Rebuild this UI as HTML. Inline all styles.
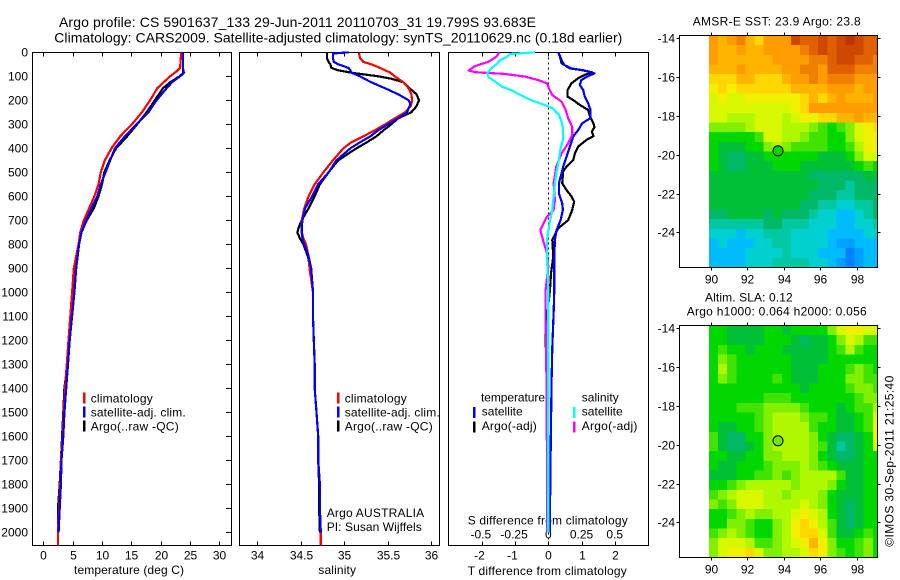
<!DOCTYPE html>
<html>
<head>
<meta charset="utf-8">
<title>Argo profile</title>
<style>
html,body{margin:0;padding:0;background:#fff;width:900px;height:580px;overflow:hidden}
svg{display:block}
text{font-family:"Liberation Sans",sans-serif;font-size:12px;fill:#000}
</style>
</head>
<body>
<svg id="fig" width="900" height="580" viewBox="0 0 900 580" xmlns="http://www.w3.org/2000/svg">
<rect width="900" height="580" fill="#fff"/>
<text x="59" y="27" style="font-size:14px" textLength="477" lengthAdjust="spacing">Argo profile: CS 5901637_133 29-Jun-2011 20110703_31 19.799S 93.683E</text>
<text x="54.3" y="42.7" style="font-size:14px" textLength="568" lengthAdjust="spacing">Climatology: CARS2009. Satellite-adjusted climatology: synTS_20110629.nc (0.18d earlier)</text>
<text x="74" y="574" textLength="110">temperature (deg C)</text>
<text x="318.3" y="574" textLength="37.7">salinity</text>
<text x="467.7" y="575" textLength="159">T difference from climatology</text>
<text x="467.7" y="524.3" textLength="160">S difference from climatology</text>
<text x="90.7" y="402.3" textLength="62">climatology</text>
<text x="90.7" y="416.7" textLength="95">satellite-adj. clim.</text>
<text x="90.7" y="430.7" textLength="88">Argo(..raw -QC)</text>
<text x="344.7" y="402.3" textLength="62">climatology</text>
<text x="344.7" y="416.7" textLength="95">satellite-adj. clim.</text>
<text x="344.7" y="430.7" textLength="88">Argo(..raw -QC)</text>
<text x="326.7" y="517" textLength="97.5">Argo AUSTRALIA</text>
<text x="326.7" y="531" textLength="95">PI: Susan Wijffels</text>
<text x="481" y="401.7" textLength="64">temperature</text>
<text x="481.7" y="415.7" textLength="41">satellite</text>
<text x="481.7" y="430" textLength="55">Argo(-adj)</text>
<text x="581.7" y="401.7" textLength="37">salinity</text>
<text x="581.7" y="415.7" textLength="41">satellite</text>
<text x="581.7" y="430" textLength="55.7">Argo(-adj)</text>
<text x="692.7" y="25.7" textLength="168">AMSR-E SST: 23.9 Argo: 23.8</text>
<text x="705" y="301.7" textLength="87.7">Altim. SLA: 0.12</text>
<text x="686.7" y="315.7" textLength="180">Argo h1000: 0.064 h2000: 0.056</text>
<text transform="translate(893.3,546.7) rotate(-90)" x="0" y="0" textLength="171">©IMOS 30-Sep-2011 21:25:40</text>
</svg>
<script>
// ---------- depth axis ----------
var depthTicks = [0,100,200,300,400,500,600,700,800,900,1000,1100,1200,1300,1400,1500,1600,1700,1800,1900,2000];

// ---------- temperature panel ----------
var tempTicks = [0,5,10,15,20,25,30];
var tempDepths = [0,65,80,85,100,125,150,200,250,300,350,400,450,500,550,600,650,700,750,800,900,1000,1100,1200,1300,1400,1500,1600,1700,1800,1900,2000,2055];
var tempClim = [23.5,23.3,22.7,22.4,21.6,20.5,19.4,18.2,16.8,15.1,13.1,11.6,10.5,9.8,9.4,8.7,7.8,6.9,6.3,6.0,5.2,4.9,4.6,4.3,4.0,3.7,3.5,3.3,3.0,2.9,2.7,2.5,2.5];
var tempSat = [23.8,23.8,23.9,24.0,23.3,21.9,21.0,19.3,17.9,15.9,13.9,12.2,11.4,10.6,9.8,9.2,8.2,7.3,6.5,6.1,5.6,5.3,4.9,4.5,4.2,3.9,3.6,3.4,3.1,3.0,2.8,2.6];
var tempArgo = [23.8,23.8,23.8,23.9,23.2,21.6,20.4,19.0,17.6,16.0,14.3,12.4,11.3,10.4,10.0,9.4,8.6,7.4,6.5,6.0,5.3,5.0,4.7,4.4,4.1,3.6,3.4,3.2,3.0,2.8,2.5,2.5];

// ---------- salinity panel ----------
var salTicks = [34,34.5,35,35.5,36];
var salDepths = [0,5,25,40,50,65,75,85,100,110,125,150,175,200,215,225,250,275,300,325,350,375,400,450,500,550,600,650,700,725,750,775,800,850,900,1000,1100,1200,1300,1400,1500,1600,1700,1800,1900,2000,2055];
var salClim = [35.17,35.17,35.18,35.22,35.31,35.41,35.47,35.53,35.58,35.62,35.68,35.74,35.77,35.78,35.77,35.76,35.7,35.58,35.47,35.35,35.22,35.08,34.99,34.87,34.76,34.66,34.59,34.54,34.51,34.51,34.51,34.53,34.56,34.59,34.6,34.64,34.64,34.65,34.66,34.66,34.68,34.7,34.7,34.72,34.72,34.73,34.73];
var salSat = [35.05,34.87,34.87,34.88,34.93,35.05,35.07,35.08,35.18,35.23,35.31,35.47,35.62,35.74,35.76,35.75,35.72,35.62,35.5,35.39,35.3,35.18,35.07,34.91,34.82,34.7,34.63,34.55,34.52,34.51,34.51,34.52,34.54,34.59,34.62,34.64,34.64,34.65,34.66,34.66,34.68,34.7,34.7,34.72,34.72,34.73];
var salArgo = [34.8,34.8,34.8,34.82,34.84,34.85,34.93,35.08,35.39,35.54,35.68,35.75,35.83,35.86,35.84,35.83,35.77,35.62,35.54,35.45,35.37,35.26,35.14,34.93,34.82,34.72,34.66,34.59,34.51,34.48,34.46,34.49,34.53,34.58,34.61,34.64,34.64,34.65,34.66,34.66,34.68,34.7,34.7,34.71,34.71,34.72];

// ---------- difference panel ----------
var diffTTicks = [-2,-1,0,1,2];
var diffSTicks = ["-0.5","-0.25","0","0.25","0.5"];
var diffSTickValues = [-0.5,-0.25,0,0.25,0.5];
var tSatDepths = [0,32,53,67,76,88,99,115,136,157,185,212,240,275,296,324,351,393,435,476,504,546,588,629,657,699,740,782,851,921,990,1088,1227,1366,1546,1782,1921,2000];
var tSatDiff = [0.30,0.40,0.48,0.70,1.10,1.39,1.20,1.00,0.95,1.05,1.10,1.20,1.27,1.26,1.02,0.90,0.75,0.65,0.55,0.45,0.40,0.32,0.32,0.42,0.44,0.37,0.25,0.20,0.18,0.18,0.18,0.16,0.12,0.10,0.08,0.06,0.05,0.05];
var tArgoDepths = [0,18,46,67,74,83,94,108,129,157,185,199,219,240,268,296,312,331,349,365,393,421,449,476,497,546,574,601,622,657,699,733,782,851,921,990,1143,1213,1282,1532,1657,1754,2000];
var tArgoDiff = [0.30,0.35,0.40,0.65,1.00,1.31,1.10,0.90,0.70,0.58,0.58,0.75,0.95,1.20,1.26,1.36,1.39,1.31,1.36,1.15,0.90,0.80,0.75,0.55,0.45,0.42,0.55,0.70,0.78,0.72,0.60,0.30,0.12,0.15,0.08,0.05,-0.07,-0.08,-0.05,-0.05,0.02,0.04,0.02];
var sSatDepths = [0,7,18,32,49,67,88,104,122,143,157,178,199,219,233,261,289,317,365,407,449,504,546,601,657,712,782,851,990,1500,2000];
var sSatDiff = [-0.10,-0.29,-0.31,-0.36,-0.39,-0.43,-0.46,-0.45,-0.40,-0.35,-0.28,-0.21,-0.13,-0.03,0.03,0.08,0.10,0.11,0.11,0.09,0.08,0.06,0.05,0.04,0.03,0.01,-0.01,-0.01,0,0,0];
var sArgoDepths = [0,18,39,57,76,83,90,101,115,129,157,178,206,240,275,310,344,379,421,476,546,615,657,685,740,782,838,893,990,1100,1300,1700,2000];
var sArgoDiff = [-0.37,-0.39,-0.45,-0.55,-0.60,-0.55,-0.33,-0.18,-0.08,-0.01,0.01,0.03,0.10,0.13,0.15,0.18,0.18,0.15,0.10,0.06,0.04,0.05,0.04,-0.01,-0.06,-0.04,-0.01,0,-0.02,-0.02,-0.015,-0.01,-0.01];

// ---------- maps ----------
var lonTicks = [90,92,94,96,98];
var latTicks = [-14,-16,-18,-20,-22,-24];
var argoLon = 93.683;
var argoLat = -19.799;
var heatColors = ["#0080ff","#00a0ff","#00bcff","#00d0d0","#00c8a0","#00b868","#00c038","#00d800","#40e400","#80f000","#b0f800","#d8f800","#f0f000","#ffd800","#ffb400","#ff9c00","#f08000","#e06000","#d04800","#c03000"];
var sstGrid = [
[15,14,15,16,14,13,15,15,15,18,17,17,18,17,18,19,18,17,17],
[15,14,14,15,14,14,15,15,15,15,16,17,18,17,18,18,18,17,17],
[15,14,14,14,14,14,14,15,15,15,15,16,16,17,18,18,17,17,16],
[14,14,14,15,14,14,14,14,15,15,16,16,15,17,17,17,16,16,16],
[13,13,13,14,14,13,13,13,14,15,15,16,15,16,16,16,15,15,15],
[12,13,12,13,13,13,13,13,13,14,14,14,14,15,15,15,14,15,15],
[11,12,11,11,12,12,12,12,12,12,13,14,13,14,15,14,14,14,15],
[11,11,11,11,11,11,11,11,11,12,13,15,15,15,15,15,15,15,15],
[11,11,10,10,10,11,11,11,10,11,12,12,13,13,14,14,15,14,14],
[9,9,9,9,10,11,11,11,10,10,10,9,8,7,8,9,11,12,13],
[7,7,7,7,7,8,11,11,10,10,9,8,8,7,7,9,11,12,12],
[7,6,6,6,7,7,9,10,9,8,8,8,8,7,7,8,10,12,12],
[7,6,5,5,6,6,7,7,7,7,7,7,6,6,6,7,9,11,11],
[7,6,5,5,6,6,6,7,7,7,6,6,6,6,6,6,7,8,7],
[6,6,6,6,6,6,6,6,6,6,6,5,5,5,5,5,5,6,6],
[6,6,6,6,6,6,6,6,6,6,6,6,5,5,5,4,5,5,5],
[6,6,6,6,6,6,6,6,6,6,6,5,5,5,4,4,5,5,5],
[6,6,6,6,6,6,6,6,6,6,5,5,4,4,3,3,4,4,5],
[5,5,6,6,6,6,5,6,5,5,5,4,3,3,2,2,3,4,5],
[4,4,4,4,4,4,5,5,4,4,4,3,3,3,2,2,3,3,4],
[3,3,3,2,3,3,4,4,4,3,3,3,3,2,2,2,2,3,3],
[2,3,2,2,2,3,3,4,4,3,3,3,3,2,1,1,2,2,2],
[2,2,2,2,3,3,3,3,4,3,3,3,2,2,2,0,1,2,2],
[2,2,2,2,3,3,3,4,4,4,4,3,3,2,1,0,1,2,2]
];
var slaGrid = [
[7,7,6,6,6,6,7,7,6,7,7,7,7,9,11,12,12,11,11],
[7,7,6,6,6,6,7,7,7,6,5,6,6,7,9,11,10,8,8],
[7,8,7,7,6,7,7,7,6,6,6,6,6,7,8,10,8,7,7],
[7,9,8,7,7,7,7,7,7,6,6,6,6,7,7,7,7,7,7],
[7,10,8,7,7,7,7,7,7,6,6,6,7,7,7,8,9,8,7],
[7,9,8,7,7,7,7,8,7,6,6,6,7,7,7,9,9,8,8],
[7,7,7,7,7,7,7,7,7,7,6,7,7,7,7,8,9,9,8],
[7,7,7,7,7,7,8,8,8,7,7,7,7,7,7,7,8,9,9],
[7,7,7,8,8,8,9,9,9,9,8,7,7,7,6,7,8,8,10],
[7,7,7,7,7,8,9,10,10,10,9,8,8,7,6,6,7,8,11],
[7,6,6,7,7,8,9,10,10,10,10,8,7,7,6,6,7,8,12],
[8,6,5,5,7,7,9,10,10,10,10,9,7,6,5,5,6,7,12],
[8,6,5,5,6,7,9,10,10,10,10,9,8,6,4,5,6,7,11],
[7,7,6,6,7,7,9,9,10,10,10,9,7,6,5,5,6,7,7],
[7,6,6,7,7,7,8,9,9,9,10,9,8,7,6,6,6,7,7],
[6,6,6,7,7,8,8,9,8,9,10,10,10,10,8,6,6,7,7],
[7,7,8,9,10,10,10,10,10,9,10,10,10,9,7,6,6,7,7],
[8,9,10,11,11,11,10,10,9,10,10,10,9,7,6,6,6,7,7],
[9,8,9,11,11,11,10,10,10,10,11,10,9,7,6,5,6,7,7],
[7,7,8,9,10,9,9,10,10,11,12,11,10,7,6,5,6,7,7],
[7,7,9,9,8,7,7,9,10,12,13,12,10,8,6,5,6,7,7],
[8,9,10,9,8,7,7,9,10,12,13,13,11,8,6,6,7,8,7],
[9,11,11,11,10,8,8,9,10,11,12,14,12,9,7,7,8,9,7],
[9,11,12,12,13,11,9,9,10,10,11,13,12,9,8,7,8,9,7]
];

// ---------- drawing ----------
var NS = "http://www.w3.org/2000/svg";
var fig = document.getElementById("fig");
var plotTop = 52.5, plotBottom = 545.5;
function yDepth(d){ return 52.3 + d*0.24; }
function xTemp(v){ return 43.3 + v*5.87; }
function xSal(v){ return 257.3 + (v-34)*87; }
function xDiffT(v){ return 548.3 + v*33.2; }
function xDiffS(v){ return 548.3 + v*132.8; }

function make(tag, attrs, parent){
  var e = document.createElementNS(NS, tag);
  for (var k in attrs) e.setAttribute(k, attrs[k]);
  (parent || fig).appendChild(e);
  return e;
}
function drawSeg(x1,y1,x2,y2,name){
  var e = make("line",{x1:x1,y1:y1,x2:x2,y2:y2,stroke:"#000","stroke-width":1,"shape-rendering":"crispEdges"});
  
  
  return e;
}
function drawLabel(str,x,y,anchor,name){
  var e = make("text",{x:x,y:y,"text-anchor":anchor});
  e.textContent = str;
  
  
  return e;
}
function drawBox(x0,y0,x1,y1,name){
  var e = make("rect",{x:x0,y:y0,width:x1-x0,height:y1-y0,fill:"none",stroke:"#000","stroke-width":1,"shape-rendering":"crispEdges"});
  
  
  return e;
}
function drawProfile(values,depths,xFn,color,name){
  var pts = [];
  var n = Math.min(values.length, depths.length);
  for (var i=0;i<n;i++) pts.push(xFn(values[i]).toFixed(1)+","+yDepth(depths[i]).toFixed(1));
  var e = make("polyline",{points:pts.join(" "),fill:"none",stroke:color,"stroke-width":2.2,"stroke-linejoin":"round","shape-rendering":"crispEdges"});
  
  
  return e;
}
function drawLegendBar(x,y,color,name){
  var e = make("rect",{x:x-1,y:y,width:2.5,height:11,fill:color,"shape-rendering":"crispEdges"});
  
  
  return e;
}

// Panel frames
drawBox(32.5,plotTop,231.5,plotBottom,"temperature-plot-frame");
drawBox(239.5,plotTop,439.5,plotBottom,"salinity-plot-frame");
drawBox(448.5,plotTop,648.5,plotBottom,"difference-plot-frame");

// Depth ticks and labels
depthTicks.forEach(function(d){
  var y = Math.round(yDepth(d))+0.5;
  drawSeg(226,y,231,y,"depth-tick");
  drawLabel(String(d),28,y+4,"end","depth-tick-label");
});

// X ticks
tempTicks.forEach(function(v){
  var x = Math.round(xTemp(v))+0.5;
  drawSeg(x,plotTop,x,plotTop+4,"temperature-top-tick");
  drawSeg(x,plotBottom-4,x,plotBottom,"temperature-bottom-tick");
  drawLabel(String(v),x,559.7,"middle","temperature-tick-label");
});
salTicks.forEach(function(v){
  var x = Math.round(xSal(v))+0.5;
  drawSeg(x,plotTop,x,plotTop+4,"salinity-top-tick");
  drawSeg(x,plotBottom-4,x,plotBottom,"salinity-bottom-tick");
  drawLabel(String(v),x,559.7,"middle","salinity-tick-label");
});
diffTTicks.forEach(function(v){
  var x = Math.round(xDiffT(v))+0.5;
  drawSeg(x,plotTop,x,plotTop+4,"t-difference-top-tick");
  drawSeg(x,plotBottom-4,x,plotBottom,"t-difference-bottom-tick");
  drawLabel(String(v),v<0?x-3:x,559.3,"middle","t-difference-tick-label");
});
diffSTicks.forEach(function(s,i){
  drawLabel(s,xDiffS(diffSTickValues[i])-(i<2?1:0),538.7,"middle","s-difference-tick-label");
});

// Zero reference line in difference panel
var zeroLine = make("line",{x1:xDiffT(0),y1:plotTop,x2:xDiffT(0),y2:plotBottom,stroke:"#000","stroke-width":1,"stroke-dasharray":"2 3","shape-rendering":"crispEdges"});



// Temperature series
drawProfile(tempArgo,tempDepths,xTemp,"#000","temperature-argo-line");
drawProfile(tempClim,tempDepths,xTemp,"#f00","temperature-climatology-line");
drawProfile(tempSat,tempDepths,xTemp,"#00f","temperature-satellite-line");

// Salinity series
drawProfile(salArgo,salDepths,xSal,"#000","salinity-argo-line");
drawProfile(salClim,salDepths,xSal,"#f00","salinity-climatology-line");
drawProfile(salSat,salDepths,xSal,"#00f","salinity-satellite-line");

// Difference series
drawProfile(tArgoDiff,tArgoDepths,xDiffT,"#000","t-difference-argo-line");
drawProfile(tSatDiff,tSatDepths,xDiffT,"#00f","t-difference-satellite-line");
drawProfile(sArgoDiff,sArgoDepths,xDiffS,"#f0f","s-difference-argo-line");
drawProfile(sSatDiff,sSatDepths,xDiffS,"#0ff","s-difference-satellite-line");

// Legend bars
drawLegendBar(84,392.7,"#f00","legend-climatology-swatch");
drawLegendBar(84,406.7,"#00f","legend-satellite-swatch");
drawLegendBar(84,420.7,"#000","legend-argo-swatch");
drawLegendBar(338,392.7,"#f00","salinity-legend-climatology-swatch");
drawLegendBar(338,406.7,"#00f","salinity-legend-satellite-swatch");
drawLegendBar(338,420.7,"#000","salinity-legend-argo-swatch");
drawLegendBar(474,407,"#00f","diff-legend-temp-satellite-swatch");
drawLegendBar(474,421.5,"#000","diff-legend-temp-argo-swatch");
drawLegendBar(574,407,"#0ff","diff-legend-sal-satellite-swatch");
drawLegendBar(574,421.5,"#f0f","diff-legend-sal-argo-swatch");

// Maps
function drawMap(grid,top,bottom,lat14,markerColor,prefix){
  var left = 679.5, right = 877.5;
  function xLon(lon){ return 711 + (lon-90)*18.2; }
  function yLat(lat){ return lat14 + (-14-lat)*19.4; }
  var y0 = top;
  grid.forEach(function(row,r){
    row.forEach(function(v,c){
      var cx = xLon(89.89 + c*0.5), cy = y0 + r*(bottom-top)/grid.length;
      var w = Math.min(9.6, right-cx), h = (bottom-top)/grid.length + 0.5;
      if (w <= 0) return;
      var cell = make("rect",{x:cx.toFixed(1),y:cy.toFixed(1),width:w.toFixed(1),height:h.toFixed(1),fill:heatColors[v],"shape-rendering":"crispEdges"});
      
      
    });
  });
  drawBox(left,top,right,bottom,prefix + "-map-frame");
  lonTicks.forEach(function(lon){
    var x = Math.round(xLon(lon))+0.5;
    drawSeg(x,bottom,x,bottom+3,prefix + "-lon-tick");
    drawSeg(x,top-3,x,top,prefix + "-lon-top-tick");
    drawLabel(String(lon),x,bottom+16,"middle",prefix + "-lon-tick-label");
  });
  latTicks.forEach(function(lat){
    var y = Math.round(yLat(lat))+0.5;
    drawSeg(left-3,y,left,y,prefix + "-lat-tick");
    drawSeg(right,y,right+3,y,prefix + "-lat-right-tick");
    drawLabel(String(lat),675,y+4,"end",prefix + "-lat-tick-label");
  });
  var marker = make("circle",{cx:xLon(argoLon).toFixed(1),cy:yLat(argoLat).toFixed(1),r:5,fill:markerColor,stroke:"#000","stroke-width":1});
  
  
}
drawMap(sstGrid,35.5,267.5,38.3,"#00d800","sst");
drawMap(slaGrid,325.5,557.5,328.3,"#70e800","sla");
</script>
</body>
</html>
